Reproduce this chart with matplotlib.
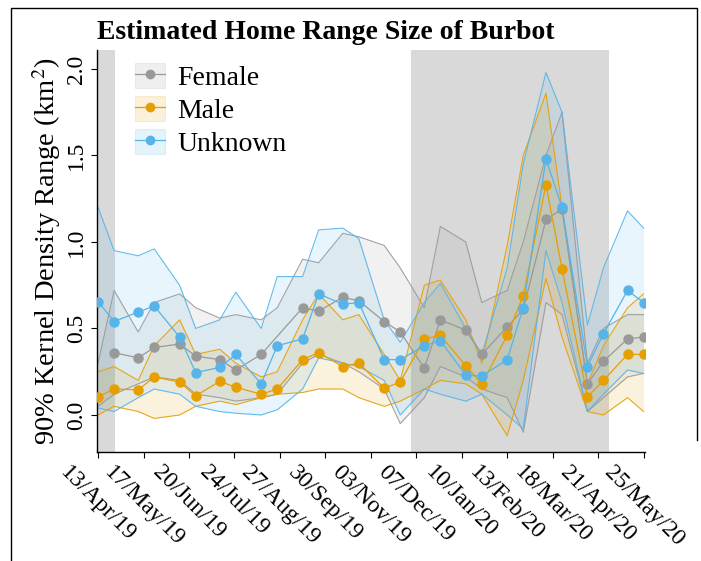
import matplotlib
matplotlib.use("Agg")
import matplotlib.pyplot as plt
import matplotlib.dates as mdates
from matplotlib.patches import Patch
from matplotlib.lines import Line2D
import numpy as np
import pandas as pd

plt.rcParams['font.family'] = 'Liberation Serif'
plt.rcParams['mathtext.fontset'] = 'stix'

# sampling dates (13th and 25th of each month)
dates = pd.to_datetime([
    "2019-04-13", "2019-04-25", "2019-05-13", "2019-05-25", "2019-06-13", "2019-06-25",
    "2019-07-13", "2019-07-25", "2019-08-13", "2019-08-25", "2019-09-13", "2019-09-25",
    "2019-10-13", "2019-10-25", "2019-11-13", "2019-11-25", "2019-12-13", "2019-12-25",
    "2020-01-13", "2020-01-25", "2020-02-13", "2020-02-25", "2020-03-13", "2020-03-25",
    "2020-04-13", "2020-04-25", "2020-05-13", "2020-05-25"])

# estimated home range (km2) and ribbon bounds
female = [np.nan, 0.36, 0.33, 0.39, 0.41, 0.34, 0.32, 0.26, 0.35, np.nan, 0.62, 0.60, 0.68, 0.66,
          0.54, 0.48, 0.27, 0.55, 0.49, 0.35, 0.51, 0.61, 1.13, 1.19, 0.18, 0.31, 0.44, 0.45]
female_lo = [0.05, 0.12, 0.18, 0.22, 0.20, 0.12, 0.10, 0.08, 0.10, 0.12, 0.30, 0.35, 0.30, 0.25,
             0.15, -0.05, 0.10, 0.28, 0.22, 0.15, 0.10, -0.10, 0.65, 0.58, 0.02, 0.10, 0.22, 0.24]
female_hi = [0.30, 0.72, 0.48, 0.65, 0.70, 0.62, 0.56, 0.58, 0.55, 0.62, 0.90, 0.88, 1.05, 1.03,
             0.98, 0.85, 0.62, 1.09, 1.00, 0.65, 0.72, 1.00, 1.50, 1.75, 0.30, 0.50, 0.58, 0.58]

male = [0.105, 0.15, 0.145, 0.22, 0.19, 0.11, 0.195, 0.16, 0.12, 0.15, 0.32, 0.36, 0.28, 0.30,
        0.155, 0.19, 0.44, 0.46, 0.285, 0.18, 0.46, 0.69, 1.33, 0.845, 0.105, 0.20, 0.35, 0.35]
male_lo = [0.00, 0.05, 0.02, -0.02, 0.00, 0.05, 0.08, 0.06, 0.10, 0.12, 0.13, 0.15, 0.15, 0.10,
           0.05, 0.08, 0.15, 0.20, 0.18, 0.12, -0.12, 0.20, 0.79, 0.45, 0.02, 0.00, 0.10, 0.02]
male_hi = [0.25, 0.28, 0.20, 0.40, 0.55, 0.35, 0.38, 0.30, 0.22, 0.25, 0.55, 0.70, 0.55, 0.58,
           0.35, 0.20, 0.75, 0.78, 0.55, 0.30, 0.98, 1.50, 1.86, 1.20, 0.18, 0.40, 0.62, 0.70]

unknown = [0.655, 0.54, 0.595, 0.63, 0.45, 0.245, 0.275, 0.35, 0.18, 0.40, 0.44, 0.70, 0.64, 0.65,
           0.32, 0.32, 0.40, 0.43, 0.23, 0.225, 0.32, 0.62, 1.48, 1.20, 0.28, 0.47, 0.72, 0.65]
unknown_lo = [0.04, 0.02, 0.10, 0.15, 0.12, 0.05, 0.02, 0.01, 0.00, 0.03, 0.15, 0.33, 0.30, 0.28,
              0.20, 0.00, 0.15, 0.12, 0.08, 0.12, 0.00, -0.08, 0.95, 0.65, 0.02, 0.12, 0.26, 0.24]
unknown_hi = [1.20, 0.95, 0.92, 0.96, 0.75, 0.50, 0.55, 0.71, 0.50, 0.80, 0.80, 1.07, 1.08, 1.02,
              0.55, 0.42, 0.65, 0.76, 0.50, 0.35, 0.85, 1.45, 1.98, 1.75, 0.52, 0.85, 1.18, 1.08]

# ice cover periods (grey bands)
ice_periods = [("2019-04-01", "2019-04-26"), ("2019-12-03", "2020-04-29")]

tick_dates = pd.to_datetime(["2019-04-13", "2019-05-17", "2019-06-20", "2019-07-24", "2019-08-27",
                             "2019-09-30", "2019-11-03", "2019-12-07", "2020-01-10", "2020-02-13",
                             "2020-03-18", "2020-04-21", "2020-05-25"])
tick_labels = ["13/Apr/19", "17/May/19", "20/Jun/19", "24/Jul/19", "27/Aug/19", "30/Sep/19",
               "03/Nov/19", "07/Dec/19", "10/Jan/20", "13/Feb/20", "18/Mar/20", "21/Apr/20",
               "25/May/20"]

groups = [("Female", female, female_lo, female_hi, "#999999"),
          ("Male", male, male_lo, male_hi, "#E69F00"),
          ("Unknown", unknown, unknown_lo, unknown_hi, "#56B4E9")]

fig = plt.figure(figsize=(7.01, 5.61), dpi=100)
ax = fig.add_axes([0.138, 0.194, 0.782, 0.717])

x = mdates.date2num(dates)
for start, end in ice_periods:
    ax.axvspan(mdates.date2num(pd.Timestamp(start)), mdates.date2num(pd.Timestamp(end)),
               color="#d9d9d9", lw=0, zorder=0)

for name, y, lo, hi, c in groups:
    ax.fill_between(x, lo, hi, color=c, alpha=0.13, lw=0, zorder=1)
    ax.plot(x, lo, color=c, lw=0.8, alpha=0.9, zorder=2)
    ax.plot(x, hi, color=c, lw=0.8, alpha=0.9, zorder=2)

for name, y, lo, hi, c in groups:
    y = np.array(y, dtype=float)
    ok = ~np.isnan(y)
    ax.plot(x[ok], y[ok], color=c, lw=0.9, marker="o", ms=6.5, mec=c, zorder=3)

ax.set_xlim(mdates.date2num(pd.Timestamp("2019-04-12")), mdates.date2num(pd.Timestamp("2020-05-26")))
ax.set_ylim(-0.215, 2.11)
ax.set_xticks(mdates.date2num(tick_dates))
ax.set_xticklabels(tick_labels, rotation=-45, ha="center", va="top", fontsize=17)
ax.set_yticks([0.0, 0.5, 1.0, 1.5, 2.0])
ax.set_yticklabels(["0.0", "0.5", "1.0", "1.5", "2.0"], rotation=90, va="center", fontsize=17)
ax.tick_params(length=4, width=0.8, color="black", pad=3)
for s in ["top", "right"]:
    ax.spines[s].set_visible(False)
for s in ["left", "bottom"]:
    ax.spines[s].set_linewidth(1.0)
ax.set_ylabel("90% Kernel Density Range (km$^2$)", fontsize=20.5, labelpad=2)
ax.set_title("Estimated Home Range Size of Burbot", fontsize=20, fontweight="bold",
             loc="left", pad=8)

handles = [(Patch(facecolor=c, alpha=0.15, edgecolor=c, lw=0.8),
            Line2D([], [], color=c, marker="o", ms=6, lw=0.9)) for _, _, _, _, c in groups]
ax.legend(handles, [g[0] for g in groups], loc="upper left", bbox_to_anchor=(0.035, 1.015),
          frameon=False, fontsize=20, handlelength=1.05, handleheight=1.0,
          labelspacing=0.17, handletextpad=0.45, borderaxespad=0.3)

# outer border (right side stops above the tick labels)
fig.add_artist(Line2D([0.015, 0.015, 0.994, 0.994], [0.0, 0.986, 0.986, 0.216],
                      transform=fig.transFigure, color="black", lw=1.0))

fig.savefig("out.png", dpi=100)
